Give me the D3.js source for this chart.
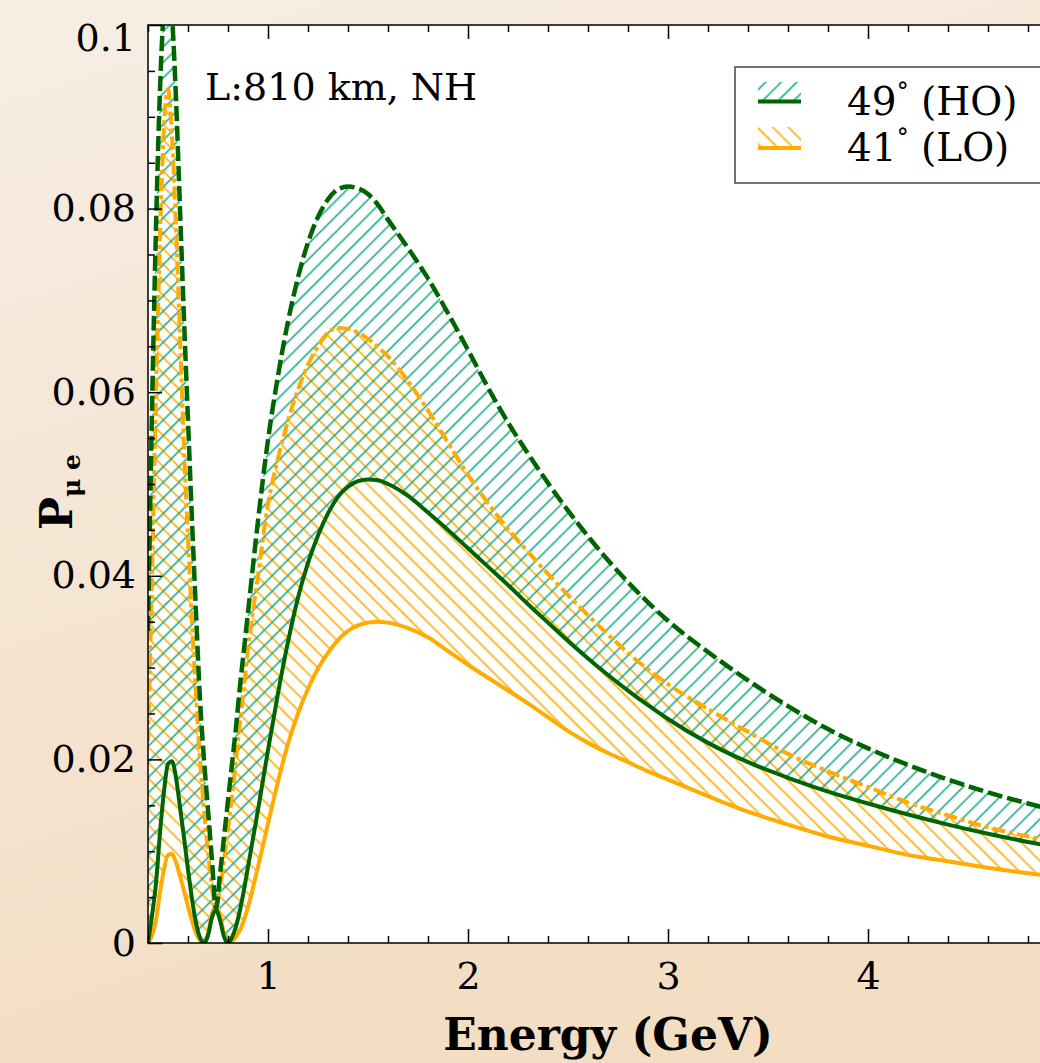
<!DOCTYPE html>
<html>
<head>
<meta charset="utf-8">
<script src="https://cdn.jsdelivr.net/npm/d3@7"></script>
<style>
  html, body { margin: 0; padding: 0; overflow: hidden; background: #f5e6d4; }
  svg { display: block; font-family: "DejaVu Serif", serif; }
</style>
</head>
<body>
<svg id="chart" width="1040" height="1063"></svg>
<script>
// Neutrino energy grid (GeV)
const energy = [0.40,0.42,0.44,0.46,0.48,0.50,0.52,0.54,0.56,0.58,
                0.60,0.62,0.64,0.66,0.68,0.70,0.72,0.74,0.76,0.78,
                0.80,0.82,0.84,0.86,0.88,0.90,0.95,1.00,1.05,1.10,
                1.15,1.20,1.25,1.30,1.35,1.40,1.45,1.50,1.55,1.60,
                1.70,1.80,1.90,2.00,2.10,2.20,2.30,2.40,2.50,2.60,
                2.70,2.80,2.90,3.00,3.20,3.40,3.60,3.80,4.00,4.20,
                4.40,4.60,4.80,5.00];

// theta23 = 49 deg (higher octant): upper (dashed) and lower (solid) edge of the delta_CP band
const hoUpper = [0.034,0.058,0.078,0.093,0.102,0.105,0.101,0.092,0.080,0.068,
                 0.057,0.046,0.036,0.0265,0.0200,0.0145,0.0090,0.0038,0.0075,0.0115,
                 0.0155,0.0195,0.0235,0.028,0.032,0.036,0.046,0.0548,0.0618,0.0677,
                 0.0725,0.0763,0.0791,0.0810,0.0821,0.0824,0.0822,0.0816,0.0804,0.0788,
                 0.0757,0.0724,0.0686,0.0646,0.0605,0.0567,0.0533,0.0501,0.0471,0.0443,
                 0.0417,0.0393,0.0371,0.0351,0.0317,0.0286,0.0258,0.0233,0.0212,0.0194,
                 0.0178,0.0164,0.0152,0.0141];
const hoLower = [0.000,0.003,0.0065,0.012,0.0165,0.0195,0.0198,0.018,0.0148,0.0115,
                 0.008,0.0048,0.0022,0.0006,0.000,0.0008,0.0028,0.0036,0.0025,0.0007,
                 0.000,0.0006,0.0018,0.0036,0.0058,0.0083,0.0145,0.0210,0.0272,0.0328,
                 0.0376,0.0414,0.0444,0.0468,0.0486,0.0497,0.0503,0.0505,0.0504,0.0500,
                 0.0487,0.0469,0.0450,0.0430,0.0410,0.0390,0.0369,0.0349,0.0329,0.0310,
                 0.0292,0.0275,0.0259,0.0244,0.0218,0.0197,0.0180,0.0165,0.0152,0.0140,
                 0.0129,0.0119,0.0110,0.0102];

// theta23 = 41 deg (lower octant)
const loUpper = [0.022,0.040,0.060,0.077,0.089,0.093,0.088,0.078,0.066,0.054,
                 0.044,0.035,0.027,0.020,0.0145,0.010,0.006,0.0038,0.006,0.009,
                 0.0125,0.016,0.020,0.024,0.028,0.032,0.040,0.0478,0.0528,0.0569,
                 0.0603,0.0630,0.0650,0.0665,0.0670,0.0669,0.0665,0.0658,0.0649,0.0639,
                 0.0612,0.0580,0.0545,0.0510,0.0479,0.0451,0.0426,0.0402,0.0379,0.0357,
                 0.0336,0.0316,0.0298,0.0282,0.0255,0.0230,0.0206,0.0187,0.0170,0.0153,
                 0.0139,0.0126,0.0116,0.0108];
const loLower = [0.000,0.0008,0.0025,0.0055,0.0080,0.0096,0.0097,0.0088,0.0073,0.0057,
                 0.0040,0.0024,0.0011,0.0003,0.000,0.001,0.0032,0.0040,0.0030,0.0010,
                 0.000,0.0002,0.0007,0.0014,0.0025,0.0039,0.0083,0.0130,0.0176,0.0217,
                 0.0250,0.0277,0.0299,0.0316,0.0330,0.0340,0.0346,0.0349,0.0350,0.0349,
                 0.0343,0.0333,0.0318,0.0303,0.0289,0.0275,0.0261,0.0246,0.0231,0.0218,
                 0.0207,0.0197,0.0187,0.0178,0.0160,0.0143,0.0129,0.0116,0.0106,0.0096,
                 0.0089,0.0082,0.0076,0.0071];

const xTicks = [1, 2, 3, 4];
const xMinorTicks = [0.4,0.6,0.8,1.2,1.4,1.6,1.8,2.2,2.4,2.6,2.8,3.2,3.4,3.6,3.8,4.2,4.4,4.6,4.8];
const yTicks = [0, 0.02, 0.04, 0.06, 0.08, 0.1];
const yTickLabels = ["0", "0.02", "0.04", "0.06", "0.08", "0.1"];
const yMinorTicks = [0.005,0.01,0.015,0.025,0.03,0.035,0.045,0.05,0.055,0.065,0.07,0.075,0.085,0.09,0.095];
const legendAngles = ["49", "41"];
const legendOctants = ["(HO)", "(LO)"];
const annotation = "L:810 km, NH";

const GREEN = "#006400", ORANGE = "#ffab00", TEAL = "#1aa886";

const svg = d3.select("#chart");
const W = 1040, H = 1063;
const plot = { left: 148, right: 1068, top: 25, bottom: 943 };

const x = d3.scaleLinear().domain([0.4, 5]).range([plot.left, plot.right]);
const y = d3.scaleLinear().domain([0, 0.1]).range([plot.bottom, plot.top]);

const defs = svg.append("defs");

// paper-like page background
const bg = defs.append("linearGradient").attr("id", "paper")
  .attr("x1", 0).attr("y1", 0).attr("x2", 0.3).attr("y2", 1);
bg.append("stop").attr("offset", 0).attr("stop-color", "#f7eee4");
bg.append("stop").attr("offset", 1).attr("stop-color", "#f3ddc3");
svg.append("rect").attr("width", W).attr("height", H).attr("fill", "url(#paper)");

// diagonal hatch patterns
function hatch(id, color, angle) {
  const s = 11;
  const p = defs.append("pattern").attr("id", id)
    .attr("patternUnits", "userSpaceOnUse")
    .attr("width", s).attr("height", s)
    .attr("patternTransform", `rotate(${angle})`);
  p.append("line").attr("x1", s / 2).attr("y1", -2).attr("x2", s / 2).attr("y2", s + 2)
    .attr("stroke", color).attr("stroke-width", 1.6);
}
hatch("hatchHO", TEAL, 45);
hatch("hatchLO", ORANGE, -45);

defs.append("clipPath").attr("id", "plotClip")
  .append("rect").attr("x", plot.left).attr("y", plot.top)
  .attr("width", plot.right - plot.left).attr("height", plot.bottom - plot.top);

// plot area
svg.append("rect").attr("x", plot.left).attr("y", plot.top)
  .attr("width", plot.right - plot.left).attr("height", plot.bottom - plot.top)
  .attr("fill", "#fff");

const rows = energy.map((e, i) => ({
  e, hoU: hoUpper[i], hoL: hoLower[i], loU: loUpper[i], loL: loLower[i]
}));

const data = svg.append("g").attr("clip-path", "url(#plotClip)");

const band = (lo, hi) => d3.area().curve(d3.curveMonotoneX)
  .x(d => x(d.e)).y0(d => y(d[lo])).y1(d => y(d[hi]));
const curve = key => d3.line().curve(d3.curveMonotoneX)
  .x(d => x(d.e)).y(d => y(d[key]));

data.append("path").datum(rows).attr("d", band("loL", "loU")).attr("fill", "url(#hatchLO)");
data.append("path").datum(rows).attr("d", band("hoL", "hoU")).attr("fill", "url(#hatchHO)");

data.append("path").datum(rows).attr("d", curve("loL"))
  .attr("fill", "none").attr("stroke", ORANGE).attr("stroke-width", 4);
data.append("path").datum(rows).attr("d", curve("loU"))
  .attr("fill", "none").attr("stroke", ORANGE).attr("stroke-width", 4)
  .attr("stroke-dasharray", "13,4,4,4");
data.append("path").datum(rows).attr("d", curve("hoL"))
  .attr("fill", "none").attr("stroke", GREEN).attr("stroke-width", 4);
data.append("path").datum(rows).attr("d", curve("hoU"))
  .attr("fill", "none").attr("stroke", GREEN).attr("stroke-width", 4.5)
  .attr("stroke-dasharray", "15,5");

// axes with inward ticks
function styleAxis(g) {
  g.attr("font-size", null).attr("font-family", null);
  g.select(".domain").remove();
  g.selectAll(".tick line").attr("stroke", "#000").attr("stroke-width", 1.5);
  g.selectAll(".tick text").attr("fill", "#000").attr("font-size", 38)
    .attr("font-family", "DejaVu Serif, serif");
}

const gx = svg.append("g").attr("transform", `translate(0,${plot.bottom})`)
  .call(d3.axisBottom(x).tickValues(xTicks).tickFormat(d3.format("d"))
    .tickSize(-14).tickSizeOuter(0).tickPadding(19));
styleAxis(gx);
const gxm = svg.append("g").attr("transform", `translate(0,${plot.bottom})`)
  .call(d3.axisBottom(x).tickValues(xMinorTicks).tickFormat("").tickSize(-7).tickSizeOuter(0));
styleAxis(gxm);
const gxt = svg.append("g").attr("transform", `translate(0,${plot.top})`)
  .call(d3.axisTop(x).tickValues(xTicks).tickFormat("").tickSize(-14).tickSizeOuter(0));
styleAxis(gxt);
const gxtm = svg.append("g").attr("transform", `translate(0,${plot.top})`)
  .call(d3.axisTop(x).tickValues(xMinorTicks).tickFormat("").tickSize(-7).tickSizeOuter(0));
styleAxis(gxtm);

const gy = svg.append("g").attr("transform", `translate(${plot.left},0)`)
  .call(d3.axisLeft(y).tickValues(yTicks).tickFormat((d, i) => yTickLabels[i])
    .tickSize(-14).tickSizeOuter(0).tickPadding(12));
styleAxis(gy);
gy.selectAll(".tick").filter(d => d === 0.1).select("text").attr("y", 13);
const gym = svg.append("g").attr("transform", `translate(${plot.left},0)`)
  .call(d3.axisLeft(y).tickValues(yMinorTicks).tickFormat("").tickSize(-7).tickSizeOuter(0));
styleAxis(gym);

// frame
svg.append("rect").attr("x", plot.left).attr("y", plot.top)
  .attr("width", plot.right - plot.left).attr("height", plot.bottom - plot.top)
  .attr("fill", "none").attr("stroke", "#000").attr("stroke-width", 1.5);

// axis titles
svg.append("text").attr("x", (plot.left + plot.right) / 2).attr("y", 1050)
  .attr("text-anchor", "middle").attr("font-size", 44).attr("font-weight", "bold")
  .text("Energy (GeV)");

const yl = svg.append("text").attr("transform", "translate(72,492) rotate(-90)")
  .attr("text-anchor", "middle").attr("font-weight", "bold");
yl.append("tspan").attr("font-size", 44).text("P");
yl.append("tspan").attr("font-size", 25).attr("dy", 8).text("\u03bc e");

// annotation
svg.append("text").attr("x", 205).attr("y", 100).attr("font-size", 38).text(annotation);

// legend
const lg = svg.append("g");
lg.append("rect").attr("x", 735).attr("y", 67).attr("width", 330).attr("height", 116)
  .attr("fill", "#fff").attr("stroke", "#444").attr("stroke-width", 1.5);
const entries = [
  { fill: "url(#hatchHO)", color: GREEN, top: 82, bottom: 101.5, base: 115 },
  { fill: "url(#hatchLO)", color: ORANGE, top: 127, bottom: 148, base: 161 }
];
entries.forEach((en, i) => {
  lg.append("rect").attr("x", 758).attr("y", en.top).attr("width", 43)
    .attr("height", en.bottom - en.top).attr("fill", en.fill);
  lg.append("line").attr("x1", 758).attr("x2", 801).attr("y1", en.bottom).attr("y2", en.bottom)
    .attr("stroke", en.color).attr("stroke-width", 4);
  const t = lg.append("text").attr("x", 847).attr("y", en.base).attr("font-size", 39);
  t.append("tspan").text(legendAngles[i]);
  t.append("tspan").attr("font-size", 24).attr("dy", -15).text("\u00b0");
  t.append("tspan").attr("dy", 15).text(" " + legendOctants[i]);
});
</script>
</body>
</html>
